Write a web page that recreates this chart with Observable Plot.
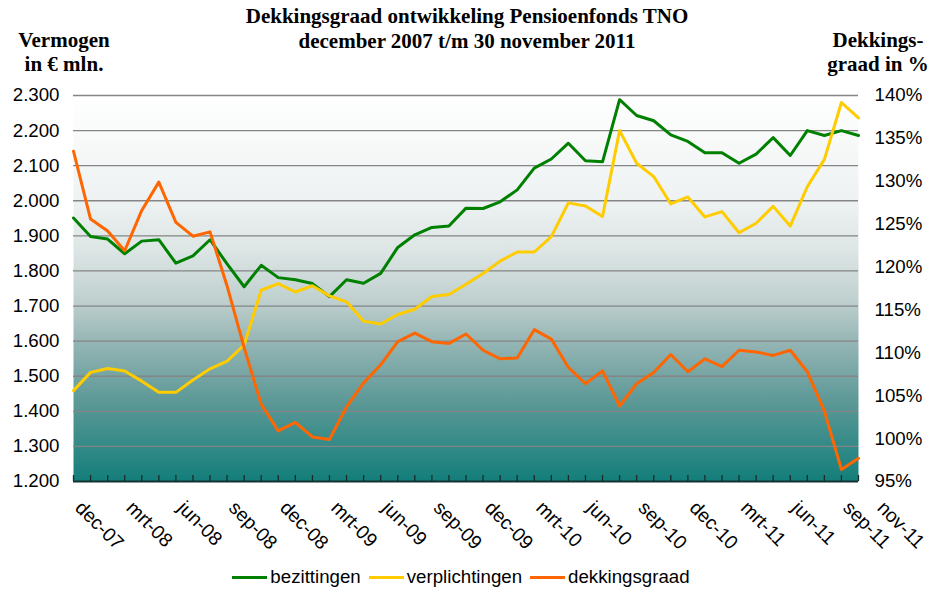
<!DOCTYPE html>
<html>
<head>
<meta charset="utf-8">
<script src="https://cdn.jsdelivr.net/npm/d3@7"></script>
<script src="https://cdn.jsdelivr.net/npm/@observablehq/plot@0.6"></script>
<style>
  body { margin: 0; background: #fff; }
  #wrap { position: relative; width: 944px; height: 592px; overflow: hidden; font-family: "Liberation Sans", Arial, sans-serif; }
  #chart { position: absolute; left: 0; top: 0; }
  .serif { position: absolute; font-family: "Liberation Serif", "Times New Roman", serif; font-weight: bold; font-size: 21px; line-height: 21px; color: #000; text-align: center; white-space: nowrap; }
  #legend { position: absolute; left: 0; width: 922px; top: 566px; display: flex; justify-content: center; align-items: center; font-size: 18.7px; line-height: 22px; color: #000; }
  .sw { display: inline-block; width: 35px; height: 3px; margin-right: 3px; }
  .item { display: flex; align-items: center; margin: 0 4px; }
</style>
</head>
<body>
<div id="wrap">
  <div id="chart"></div>
  <div class="serif" style="left:0;width:934px;top:6px;">Dekkingsgraad ontwikkeling Pensioenfonds TNO</div>
  <div class="serif" style="left:0;width:934px;top:30.5px;">december 2007 t/m 30 november 2011</div>
  <div class="serif" style="left:0;width:128px;top:30px;">Vermogen</div>
  <div class="serif" style="left:0;width:128px;top:54px;">in € mln.</div>
  <div class="serif" style="left:798px;width:160px;top:30px;">Dekkings-</div>
  <div class="serif" style="left:798px;width:160px;top:54px;">graad in %</div>
  <div id="legend"></div>
</div>
<script>
// ---- data ----
const tickLabels = ["dec-07","mrt-08","jun-08","sep-08","dec-08","mrt-09","jun-09","sep-09","dec-09","mrt-10","jun-10","sep-10","dec-10","mrt-11","jun-11","sep-11","nov-11"];
const tickIndex = [0,3,6,9,12,15,18,21,24,27,30,33,36,39,42,45,47];

const bezittingen = [1951,1898,1891,1849,1885,1889,1822,1843,1889,1820,1755,1816,1781,1775,1764,1727,1775,1765,1793,1867,1903,1924,1928,1979,1978,1997,2031,2093,2119,2164,2114,2111,2288,2243,2228,2188,2169,2137,2137,2107,2133,2180,2129,2200,2186,2200,2186];
const verplichtingen = [1459,1511,1522,1515,1486,1454,1454,1489,1521,1543,1589,1745,1764,1740,1758,1729,1712,1657,1649,1676,1691,1727,1733,1762,1793,1828,1854,1854,1898,1994,1985,1955,2200,2107,2069,1991,2011,1954,1969,1909,1936,1984,1928,2040,2118,2280,2236];
const dekkingsgraad = [133.5,125.6,124.2,121.9,126.6,129.9,125.2,123.6,124.1,117.8,110.6,104.0,100.9,101.9,100.2,99.9,103.7,106.5,108.6,111.3,112.3,111.3,111.1,112.2,110.3,109.3,109.4,112.7,111.6,108.3,106.4,107.9,103.8,106.4,107.7,109.8,107.8,109.3,108.4,110.3,110.1,109.7,110.3,107.8,103.2,96.4,97.7];

const leftTicks = [1200,1300,1400,1500,1600,1700,1800,1900,2000,2100,2200,2300];
const rightTicks = [95,100,105,110,115,120,125,130,135,140];

const seriesNames = ["bezittingen","verplichtingen","dekkingsgraad"];
const seriesColors = ["#008000","#ffcc00","#ff6600"];

// ---- scales mapping ----
const L0 = 1200, L1 = 2300, R0 = 95, R1 = 140;
const toLeft = p => L0 + (p - R0) * (L1 - L0) / (R1 - R0);
const fromLeft = v => R0 + (v - L0) * (R1 - R0) / (L1 - L0);
const nl = d3.formatLocale({decimal: ",", thousands: ".", grouping: [3], currency: ["€", ""]});
const fmtL = nl.format(",");

const rows = [];
bezittingen.forEach((v, i) => rows.push({i, s: seriesNames[0], v}));
verplichtingen.forEach((v, i) => rows.push({i, s: seriesNames[1], v}));
dekkingsgraad.forEach((p, i) => rows.push({i, s: seriesNames[2], v: toLeft(p)}));

const H = 560;
const chart = Plot.plot({
  width: 944,
  height: H,
  marginLeft: 73,
  marginRight: 86,
  marginTop: 95,
  marginBottom: H - 481,
  style: {fontFamily: "Liberation Sans, Arial, sans-serif", fontSize: "18.7px", color: "#000", background: "transparent", overflow: "visible"},
  x: {domain: [0, bezittingen.length - 1], axis: null},
  y: {domain: [L0, L1], axis: null},
  color: {domain: seriesNames, range: seriesColors},
  marks: [
    Plot.frame({fill: "url(#bgGrad)", stroke: null}),
    Plot.ruleY(leftTicks.slice(1), {stroke: "#858585", strokeWidth: 1.3}),
    Plot.ruleX(d3.range(bezittingen.length), {stroke: "#1b2b2a", strokeWidth: 1.3, insetTop: 380}),
    Plot.ruleY([L0], {stroke: "#123332", strokeWidth: 2}),
    Plot.line(rows, {x: "i", y: "v", z: "s", stroke: "s", strokeWidth: 3, strokeLinejoin: "round"}),
    Plot.axisY(leftTicks, {anchor: "left", label: null, tickSize: 0, tickPadding: 14, tickFormat: fmtL}),
    Plot.axisY(rightTicks.map(toLeft), {anchor: "right", label: null, tickSize: 0, tickPadding: 16, tickFormat: v => Math.round(fromLeft(v)) + "%"}),
    Plot.axisX(tickIndex, {anchor: "bottom", label: null, tickSize: 0, tickPadding: 23, tickRotate: 45, dx: 5, fontSize: 19.3, tickFormat: d => tickLabels[tickIndex.indexOf(d)]})
  ]
});

// gradient definition for the plot background
const svg = chart.tagName.toLowerCase() === "svg" ? chart : chart.querySelector("svg");
const defs = document.createElementNS("http://www.w3.org/2000/svg", "defs");
defs.innerHTML = `<linearGradient id="bgGrad" x1="0" y1="0" x2="0" y2="1">
  <stop offset="0" stop-color="#ffffff"/>
  <stop offset="0.27" stop-color="#eef2f2"/>
  <stop offset="0.40" stop-color="#dde5e5"/>
  <stop offset="0.53" stop-color="#bfd0cf"/>
  <stop offset="0.63" stop-color="#98b7b6"/>
  <stop offset="0.79" stop-color="#5d9997"/>
  <stop offset="1" stop-color="#137e7a"/>
</linearGradient>`;
svg.insertBefore(defs, svg.firstChild);
document.getElementById("chart").appendChild(chart);

// legend
const lg = document.getElementById("legend");
seriesNames.forEach((n, k) => {
  const it = document.createElement("span");
  it.className = "item";
  it.innerHTML = `<span class="sw" style="background:${seriesColors[k]}"></span><span>${n}</span>`;
  lg.appendChild(it);
});
</script>
</body>
</html>
